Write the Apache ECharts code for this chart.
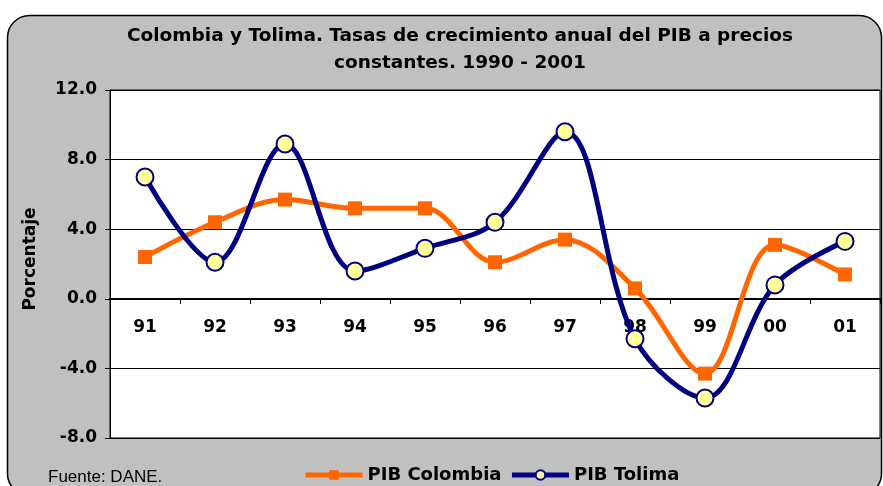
<!DOCTYPE html>
<html>
<head>
<meta charset="utf-8">
<script src="https://cdn.jsdelivr.net/npm/echarts@6/dist/echarts.min.js"></script>
<style>
  html, body { margin: 0; padding: 0; background: #fff; }
  #main { width: 883px; height: 486px; }
</style>
</head>
<body>
<div id="main"></div>
<script>
var years = ["91", "92", "93", "94", "95", "96", "97", "98", "99", "00", "01"];
var pibColombia = [2.4, 4.4, 5.7, 5.2, 5.2, 2.1, 3.4, 0.6, -4.3, 3.1, 1.4];
var pibTolima = [7.0, 2.1, 8.9, 1.6, 2.9, 4.4, 9.6, -2.3, -5.7, 0.8, 3.3];

var font = "'DejaVu Sans', sans-serif";
var chart = echarts.init(document.getElementById("main"));

chart.setOption({
  animation: false,
  textStyle: {fontFamily: font},
  graphic: [
    {
      type: "rect", z: -10, silent: true,
      shape: {x: 7.5, y: 15.5, width: 874, height: 480, r: 22},
      style: {fill: "#c0c0c0", stroke: "#000", lineWidth: 1.5}
    },
    {
      type: "text", left: 48, top: 469,
      style: {text: "Fuente: DANE.", font: "17px 'Liberation Sans', Arial, sans-serif", fill: "#000"}
    },
    {
      type: "text", x: 31, y: 259, rotation: Math.PI / 2,
      style: {
        text: "Porcentaje", font: "bold 17px " + font, fill: "#000",
        align: "center", verticalAlign: "middle"
      }
    }
  ],
  title: {
    text: "Colombia y Tolima. Tasas de crecimiento anual del PIB a precios\nconstantes. 1990 - 2001",
    left: 455, textAlign: "center", top: 18,
    textStyle: {fontSize: 18.5, fontWeight: "bold", color: "#000", lineHeight: 27, fontFamily: font}
  },
  grid: {
    left: 110, right: 3, top: 90, bottom: 48,
    show: true, backgroundColor: "#fff", borderColor: "#000", borderWidth: 1
  },
  legend: {
    left: 298, top: 461,
    itemWidth: 57, itemHeight: 12, itemGap: 8,
    lineStyle: {width: 5},
    textStyle: {fontSize: 18, fontWeight: "bold", color: "#000", fontFamily: font},
    data: ["PIB Colombia", "PIB Tolima"]
  },
  xAxis: {
    type: "category",
    data: years,
    offset: -140,
    axisLine: {onZero: false, lineStyle: {color: "#000", width: 1.2}},
    axisTick: {show: true, length: 6, lineStyle: {color: "#000"}},
    axisLabel: {margin: 21, fontSize: 17, fontWeight: "bold", color: "#000", fontFamily: font},
    splitLine: {show: false}
  },
  yAxis: {
    type: "value",
    min: -8, max: 12, interval: 4,
    axisLine: {show: true, lineStyle: {color: "#000", width: 1}},
    axisTick: {show: true, length: 5, lineStyle: {color: "#000"}},
    axisLabel: {
      margin: 13, fontSize: 17, fontWeight: "bold", color: "#000", fontFamily: font,
      formatter: function (v) { return v.toFixed(1); }
    },
    splitLine: {show: true, lineStyle: {color: "#000", width: 1}}
  },
  series: [
    {
      name: "PIB Colombia",
      type: "line",
      data: pibColombia,
      smooth: 0.35,
      symbol: "rect",
      symbolSize: 14,
      lineStyle: {color: "#ff6600", width: 5},
      itemStyle: {color: "#ff6600", borderWidth: 0}
    },
    {
      name: "PIB Tolima",
      type: "line",
      data: pibTolima,
      smooth: 0.35,
      symbol: "circle",
      symbolSize: 17,
      lineStyle: {color: "#000080", width: 5},
      itemStyle: {color: "#ffff99", borderColor: "#000080", borderWidth: 2}
    }
  ]
});
</script>
</body>
</html>
